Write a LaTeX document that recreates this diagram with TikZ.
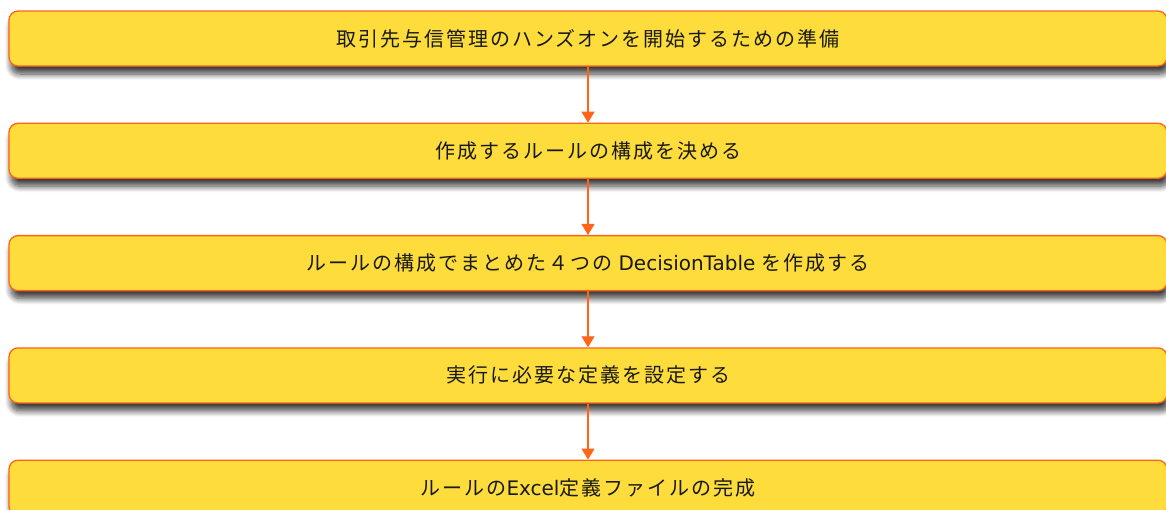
\documentclass[tikz,border=0pt]{standalone}
\usepackage{fontspec}
\setmainfont{DejaVu Sans}
\newfontfamily\jpfont[LetterSpace=10]{Noto Sans CJK JP}
\newcommand\latin[1]{{\rmfamily #1}}
\usepackage{tikz}
\usetikzlibrary{positioning, arrows.meta, shadows.blur}
\definecolor{stepfill}{HTML}{FDDC3C}
\definecolor{stepedge}{HTML}{FF6418}

\tikzset{
  stepbox/.style={draw=stepedge, line width=1.3pt, fill=stepfill, rounded corners=9pt,
    minimum width=1158pt, minimum height=55pt, inner sep=0pt,
    font=\jpfont\fontsize{20pt}{22pt}\selectfont, text=black!90,
    blur shadow={shadow xshift=2pt, shadow yshift=-8pt, shadow blur radius=6pt,
      shadow blur steps=10, shadow opacity=75}},
  flowarrow/.style={draw=stepedge, line width=1.2pt, -{Triangle[length=11pt, width=13pt]}}
}

\begin{document}
\begin{tikzpicture}
  \useasboundingbox (0pt,0pt) rectangle (1166pt,-509pt);
  % steps of the hands-on
  \node[stepbox] (prep) at (588pt,-38.5pt) {取引先与信管理のハンズオンを開始するための準備};
  \node[stepbox, below=56pt of prep] (plan) {作成するルールの構成を決める};
  \node[stepbox, below=56pt of plan] (tables) {ルールの構成でまとめた４つの \latin{DecisionTable} を作成する};
  \node[stepbox, below=56pt of tables] (defs) {実行に必要な定義を設定する};
  \node[stepbox, below=56pt of defs] (done) {ルールの\latin{Excel}定義ファイルの完成};
  % connectors
  \draw[flowarrow] (prep) -- (plan);
  \draw[flowarrow] (plan) -- (tables);
  \draw[flowarrow] (tables) -- (defs);
  \draw[flowarrow] (defs) -- (done);
\end{tikzpicture}
\end{document}
